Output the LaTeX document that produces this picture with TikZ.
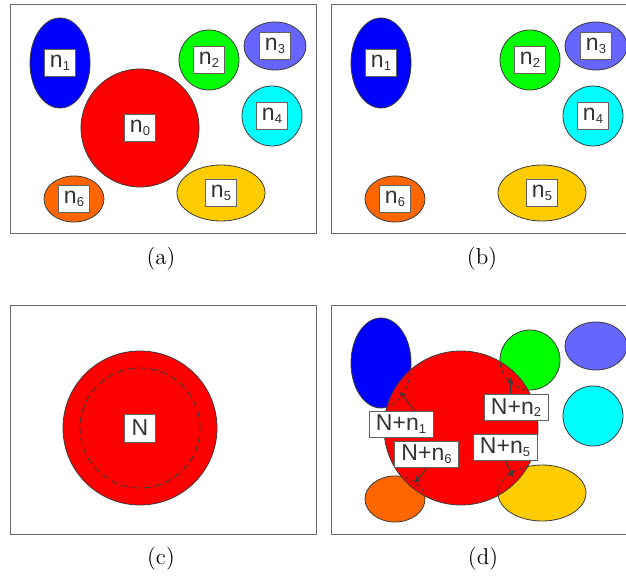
\documentclass[tikz,border=0pt]{standalone}
\usepackage{fontspec}
\newfontfamily\labfont{Liberation Sans}
\usetikzlibrary{shapes.geometric}

\definecolor{myblue}{HTML}{0000FF}
\definecolor{mygreen}{HTML}{00FF00}
\definecolor{mypurple}{HTML}{6666FF}
\definecolor{mycyan}{HTML}{00FFFF}
\definecolor{myyellow}{HTML}{FFCC00}
\definecolor{myorange}{HTML}{FF6600}
\definecolor{myred}{HTML}{FF0000}
\definecolor{edgegray}{HTML}{3A3A3A}
\definecolor{framegray}{HTML}{6A6A6A}
\definecolor{tagtext}{HTML}{333333}

\newcommand{\lowidx}[1]{\raisebox{-1.4pt}{\fontsize{6.5}{7}\selectfont #1}}

\tikzset{
    blob/.style={ellipse, draw=edgegray, line width=0.4pt, inner sep=0pt},
    tag/.style={draw=edgegray!80, fill=white, text=tagtext, font=\labfont\fontsize{11.5}{13}\selectfont,
        inner sep=1pt, minimum width=15.5pt, minimum height=13.5pt},
    widetag/.style={tag, minimum width=32pt, minimum height=13pt},
    panel/.style={draw=framegray, line width=0.5pt},
    caption/.style={font=\fontsize{11.5}{14}\selectfont},
    hidden/.style={draw=edgegray, line width=0.45pt, dash pattern=on 3.5pt off 2pt},
    arr/.style={->, >=stealth, draw=edgegray, line width=0.5pt}
}

\begin{document}
\begin{tikzpicture}[x=0.5pt,y=-0.5pt]
    \clip (0,0) rectangle (626,577);

    % (a) and (b)
    \foreach \dx/\p in {0/a,321/b} {
        \begin{scope}[shift={(\dx,0)}]
            \draw[panel] (10,5) rectangle (316,234);
            \foreach \i/\x/\y/\w/\h/\c in {1/60/63/60/90/myblue, 2/209/60/60/60/mygreen,
                3/275/46/62/48/mypurple, 4/272/116/60/60/mycyan,
                5/221/193/88/56/myyellow, 6/74/199/60/46/myorange} {
                \node[blob, fill=\c, minimum width=\w*0.5pt, minimum height=\h*0.5pt] (\p\i) at (\x,\y) {};
                \node[tag] (\p-t\i) at (\p\i) {n\lowidx{\i}};
            }
            \node[caption] (\p-cap) at (161,259) {(\p)};
        \end{scope}
    }
    \node[blob, fill=myred, minimum size=59pt] (a0) at (140,128) {};
    \node[tag] (a-t0) at (a0) {n\lowidx{0}};

    % (c)
    \begin{scope}[shift={(0,300)}]
        \draw[panel] (10,5) rectangle (316,234);
        \node[blob, fill=myred, minimum size=77pt] (c0) at (140,128) {};
        \draw[hidden] (c0.center) circle[radius=30pt];
        \node[tag, minimum height=14pt] (c-t0) at (c0) {N};
        \node[caption] (c-cap) at (161,259) {(c)};
    \end{scope}

    % (d)
    \begin{scope}[shift={(321,300)}]
        \draw[panel] (10,5) rectangle (316,234);
        \foreach \i/\x/\y/\w/\h/\c in {1/60/63/60/90/myblue, 2/209/60/60/60/mygreen,
            3/275/46/62/48/mypurple, 4/272/116/60/60/mycyan,
            5/221/193/88/56/myyellow, 6/74/199/60/46/myorange}
            \node[blob, fill=\c, minimum width=\w*0.5pt, minimum height=\h*0.5pt] (d\i) at (\x,\y) {};
        \node[blob, fill=myred, minimum size=77pt] (d0) at (140,128) {};
        \begin{scope}
            \clip (d0.center) circle[radius=38.5pt];
            \foreach \i/\rx/\ry in {1/15/22.5, 2/15/15, 5/22/14, 6/15/11.5}
                \draw[hidden, dash pattern=on 2pt off 1.5pt] (d\i.center) ellipse[x radius=\rx*1pt, y radius=\ry*1pt];
        \end{scope}

        \coordinate (t1) at (79,92);
        \coordinate (t2) at (189,77);
        \coordinate (t5) at (192,177);
        \coordinate (t6) at (94,183);

        \node[widetag] (l1) at (80,124) {N+n\lowidx{1}};
        \node[widetag] (l2) at (195,107.5) {N+n\lowidx{2}};
        \node[widetag] (l5) at (184,147) {N+n\lowidx{5}};
        \node[widetag] (l6) at (105.5,154.5) {N+n\lowidx{6}};

        \draw[arr] (l1.45) -- (t1);
        \draw[arr] (l2.north -| t2) -- (t2);
        \draw[arr] (l5.south) -- (t5);
        \draw[arr] (l6.south) -- (t6);

        \node[caption] (d-cap) at (162,259) {(d)};
    \end{scope}
\end{tikzpicture}
\end{document}
